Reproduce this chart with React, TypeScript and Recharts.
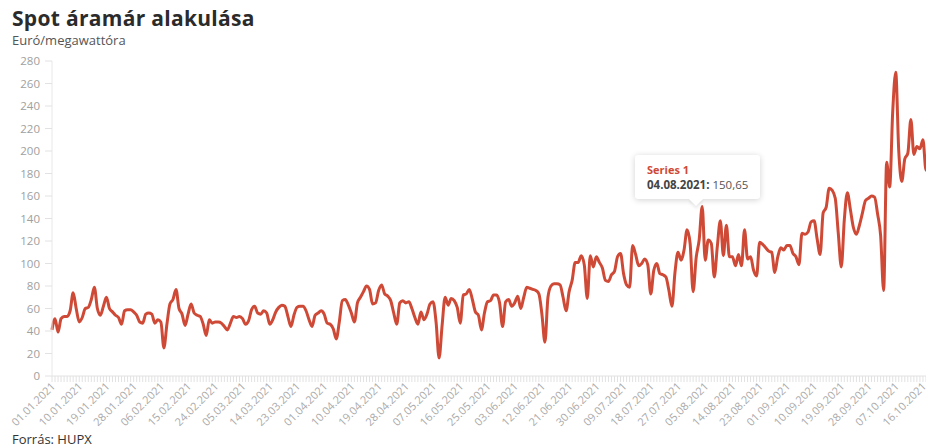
import React from "react";
import { LineChart, Line, XAxis, YAxis, Tooltip } from "recharts";

// daily HUPX spot prices, EUR/MWh, from 01.01.2021
const PRICES = [
  41, 51, 39, 51, 53, 53, 58, 74, 60, 48,
  52, 60, 61, 68, 79, 60, 54, 62, 70, 60,
  57, 54, 52, 46, 58, 59, 59, 57, 54, 48,
  47, 55, 56, 55, 47, 50, 48, 25, 46, 64,
  68, 77, 60, 55, 45, 55, 64, 56, 54, 53,
  46, 36, 50, 47, 48, 48, 47, 44, 41, 47,
  53, 52, 53, 51, 46, 49, 59, 62, 56, 55,
  58, 56, 46, 50, 57, 61, 63, 62, 53, 44,
  54, 61, 62, 62, 58, 50, 44, 54, 56, 58,
  55, 47, 46, 42, 33, 48, 67, 68, 63, 56,
  48, 65, 70, 75, 80, 77, 64, 65, 76, 81,
  73, 71, 67, 56, 46, 65, 67, 65, 66, 60,
  52, 46, 57, 50, 55, 64, 66, 48, 16, 45,
  70, 63, 69, 67, 61, 47, 72, 73, 77, 68,
  57, 54, 41, 56, 66, 67, 72, 72, 65, 44,
  66, 68, 62, 65, 71, 60, 70, 79, 78, 77,
  76, 73, 55, 30, 70, 80, 82, 82, 81, 70,
  58, 75, 85, 101, 101, 107, 99, 69, 107, 97,
  106, 101, 96, 85, 84, 90, 93, 106, 109, 91,
  81, 79, 116, 108, 98, 100, 104, 99, 73, 94,
  100, 91, 90, 88, 76, 62, 92, 110, 103, 112,
  130, 118, 75, 105, 121, 150.65, 103, 121, 118, 88,
  115, 138, 107, 134, 106, 106, 98, 108, 98, 130,
  104, 106, 94, 89, 119, 117, 114, 111, 110, 92,
  106, 114, 112, 116, 116, 109, 106, 99, 127, 126,
  128, 137, 138, 122, 108, 145, 150, 167, 165, 158,
  127, 97, 139, 163, 148, 132, 126, 134, 145, 156,
  158, 160, 159, 144, 125, 76, 190, 168, 235, 270,
  200, 173, 193, 198, 228, 197, 204, 202, 210, 183, 228,
];

const Y_TICKS = [0, 20, 40, 60, 80, 100, 120, 140, 160, 180, 200, 220, 240, 260, 280];
const LABEL_EVERY = 9;
const HIGHLIGHT = 215; // 04.08.2021

const pad = (n: number) => String(n).padStart(2, "0");
const DATES = PRICES.map((_, i) => {
  const d = new Date(Date.UTC(2021, 0, 1 + i));
  return `${pad(d.getUTCDate())}.${pad(d.getUTCMonth() + 1)}.${d.getUTCFullYear()}`;
});

const rows = DATES.map((date, i) => ({ date, value: PRICES[i] }));

const RED = "#cf4a36";
const FONT = "'Open Sans', 'Noto Sans', sans-serif";

function XTick(props: any) {
  const { x, y, payload } = props;
  const i = payload.index;
  return (
    <g>
      <line x1={x} y1={y} x2={x} y2={y + 6} stroke="#e2e2e2" strokeWidth={1} />
      {i % LABEL_EVERY === 0 && (
        <text
          x={x + 4}
          y={y + 11}
          transform={`rotate(-45, ${x + 4}, ${y + 11})`}
          textAnchor="end"
          fontSize={11}
          fill="#aaa"
          fontFamily={FONT}
        >
          {payload.value}
        </text>
      )}
    </g>
  );
}

function TipBox({ active, payload }: any) {
  if (!active || !payload || !payload.length) return null;
  const p = payload[0].payload;
  return (
    <div style={{ position: "relative", fontFamily: FONT }}>
      <div
        style={{
          background: "#fff",
          boxShadow: "0 1px 6px rgba(0,0,0,0.18)",
          borderRadius: 3,
          padding: "7px 12px 7px 12px",
          whiteSpace: "nowrap",
        }}
      >
        <div style={{ color: RED, fontWeight: 700, fontSize: 11, lineHeight: "15px" }}>Series 1</div>
        <div style={{ color: "#555", fontSize: 11.5, lineHeight: "15px" }}>
          <b style={{ color: "#444" }}>{p.date}:</b> {p.value.toFixed(2).replace(".", ",")}
        </div>
      </div>
      <div
        style={{
          position: "absolute",
          left: 56,
          bottom: -5,
          width: 10,
          height: 10,
          background: "#fff",
          transform: "rotate(45deg)",
          boxShadow: "2px 2px 3px rgba(0,0,0,0.08)",
        }}
      />
    </div>
  );
}

export default function App() {
  return (
    <div style={{ position: "relative", width: 926, height: 446, overflow: "hidden", background: "#fff" }}>
      <style>{"body{margin:0;overflow:hidden}"}</style>
      <LineChart width={929} height={446} data={rows} margin={{ top: 61, right: 0, bottom: 0, left: 0 }}>
        <XAxis
          dataKey="date"
          interval={0}
          height={70}
          tickLine={false}
          tickSize={0}
          tickMargin={0}
          axisLine={{ stroke: "#e2e2e2" }}
          tick={<XTick />}
        />
        <YAxis
          width={52}
          domain={[0, 280]}
          ticks={Y_TICKS}
          interval={0}
          tickSize={7}
          tickMargin={5}
          tickLine={{ stroke: "#e2e2e2" }}
          axisLine={{ stroke: "#e8e8e8" }}
          tick={{ fontSize: 11.5, fill: "#a0a0a0", fontFamily: FONT }}
        />
        <Tooltip
          defaultIndex={HIGHLIGHT}
          position={{ x: 635, y: 155 }}
          cursor={false}
          isAnimationActive={false}
          content={<TipBox />}
        />
        <Line
          type="monotone"
          dataKey="value"
          name="Series 1"
          stroke={RED}
          strokeWidth={3}
          dot={false}
          activeDot={false}
          isAnimationActive={false}
        />
      </LineChart>
      <div style={{ position: "absolute", left: 12, top: 6, fontFamily: FONT }}>
        <div style={{ fontSize: 21, fontWeight: 700, color: "#2b2b2b", lineHeight: "25px", letterSpacing: 0.3 }}>
          Spot áramár alakulása
        </div>
        <div style={{ fontSize: 13, color: "#555", lineHeight: "15px", marginTop: 2 }}>Euró/megawattóra</div>
      </div>
      <div style={{ position: "absolute", left: 12, top: 430, fontFamily: FONT, fontSize: 13, color: "#333" }}>
        Forrás: HUPX
      </div>
    </div>
  );
}
